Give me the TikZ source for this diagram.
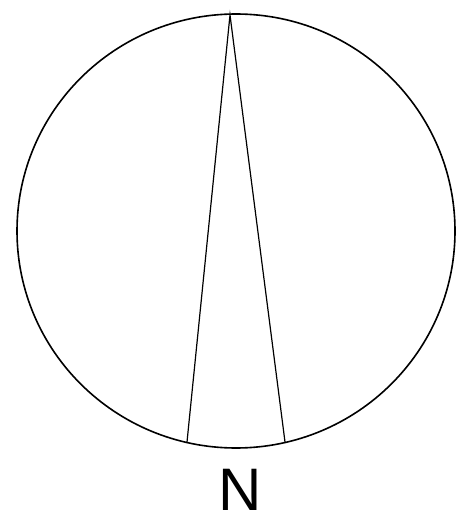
\documentclass[tikz,border=0pt]{standalone}
\usepackage{fontspec}
\setmainfont{Liberation Sans}

\begin{document}
\begin{tikzpicture}[
  x=1pt, y=-1pt,
  rim/.style={draw=black, line width=1.6pt},
  needle/.style={draw=black, line width=1.2pt},
  letter/.style={font=\fontsize{60}{60}\selectfont, inner sep=0pt, anchor=base},
]
\useasboundingbox (0,0) rectangle (460,521);

% ==================== dial ====================
\draw[rim] (236,231) ellipse [x radius=219, y radius=217];

% ==================== needle ====================
\coordinate (tip) at (230,15);
\coordinate (baseL) at (187,442);
\coordinate (baseR) at (285,442);
\draw[needle] (baseL) -- (tip) -- (baseR);

% ==================== label ====================
\node[letter] (north) at (240,510) {N};

\end{tikzpicture}
\end{document}
